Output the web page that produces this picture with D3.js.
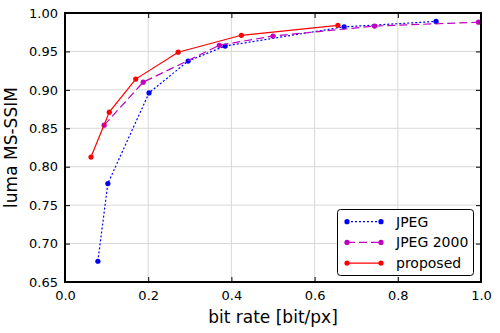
<!DOCTYPE html>
<html><head><meta charset="utf-8">
<script src="https://cdn.jsdelivr.net/npm/d3@7"></script>
<style>body{margin:0;background:#fff}text{font-family:"DejaVu Sans",sans-serif}</style>
</head><body><svg id="c" width="500" height="333"></svg>
<script>
const jpegX = [0.079, 0.103, 0.202, 0.296, 0.385, 0.671, 0.892];
const jpegY = [0.677, 0.778, 0.896, 0.9375, 0.957, 0.982, 0.989];
const j2kX = [0.094, 0.188, 0.371, 0.50, 0.744, 0.994];
const j2kY = [0.854, 0.910, 0.958, 0.970, 0.983, 0.988];
const propX = [0.0625, 0.1065, 0.170, 0.272, 0.424, 0.656];
const propY = [0.8126, 0.871, 0.914, 0.949, 0.971, 0.984];
const xTicks = [0.0, 0.2, 0.4, 0.6, 0.8, 1.0];
const yTicks = [0.65, 0.70, 0.75, 0.80, 0.85, 0.90, 0.95, 1.00];
const seriesNames = ["JPEG", "JPEG 2000", "proposed"];

const svg = d3.select("#c");
const L = 65, R = 481, T = 13, B = 282;
const x = d3.scaleLinear().domain([0, 1]).range([L, R]);
const y = d3.scaleLinear().domain([0.65, 1.0]).range([B, T]);

// grid
svg.append("g").selectAll("line").data(xTicks).join("line")
  .attr("x1", d => x(d)).attr("x2", d => x(d)).attr("y1", T).attr("y2", B)
  .attr("stroke", "#d8d8d8").attr("stroke-width", 1);
svg.append("g").selectAll("line").data(yTicks).join("line")
  .attr("y1", d => y(d)).attr("y2", d => y(d)).attr("x1", L).attr("x2", R)
  .attr("stroke", "#d8d8d8").attr("stroke-width", 1);

// axes with inward ticks
const fmtX = d3.format(".1f"), fmtY = d3.format(".2f");
const ax = (g) => g.call(s => s.select(".domain").remove())
  .call(s => s.selectAll("text").attr("font-size", 13).attr("fill", "#000"))
  .call(s => s.selectAll("line").attr("stroke", "#000").attr("stroke-width", 1));
svg.append("g").attr("transform", `translate(0,${B})`)
  .call(d3.axisBottom(x).tickValues(xTicks).tickFormat(fmtX).tickSizeInner(-5).tickPadding(9)).call(ax);
svg.append("g").attr("transform", `translate(0,${T})`)
  .call(d3.axisTop(x).tickValues(xTicks).tickFormat("").tickSizeInner(-5)).call(ax);
svg.append("g").attr("transform", `translate(${L},0)`)
  .call(d3.axisLeft(y).tickValues(yTicks).tickFormat(fmtY).tickSizeInner(-5).tickPadding(7)).call(ax);
svg.append("g").attr("transform", `translate(${R},0)`)
  .call(d3.axisRight(y).tickValues(yTicks).tickFormat("").tickSizeInner(-5)).call(ax);

// series
const series = [
  {name: seriesNames[0], xs: jpegX, ys: jpegY, color: "#0000ff", dash: "2,2"},
  {name: seriesNames[1], xs: j2kX, ys: j2kY, color: "#bf00bf", dash: "8,4"},
  {name: seriesNames[2], xs: propX, ys: propY, color: "#ff0000", dash: null}
];
const line = d3.line().x(d => x(d[0])).y(d => y(d[1]));
series.forEach(s => {
  const pts = s.xs.map((v, i) => [v, s.ys[i]]);
  svg.append("path").datum(pts).attr("d", line).attr("fill", "none")
    .attr("stroke", s.color).attr("stroke-width", 1.2).attr("stroke-dasharray", s.dash);
  svg.append("g").selectAll("circle").data(pts).join("circle")
    .attr("cx", d => x(d[0])).attr("cy", d => y(d[1])).attr("r", 2.6).attr("fill", s.color);
});

// frame
svg.append("rect").attr("x", L).attr("y", T).attr("width", R - L).attr("height", B - T)
  .attr("fill", "none").attr("stroke", "#000").attr("stroke-width", 2);

// legend
const lg = svg.append("g");
lg.append("rect").attr("x", 337.5).attr("y", 209.5).attr("width", 136).attr("height", 66)
  .attr("rx", 3).attr("fill", "#fff").attr("stroke", "#000").attr("stroke-width", 1);
series.forEach((s, i) => {
  const yy = 221.7 + i * 20.7;
  lg.append("line").attr("x1", 347).attr("x2", 381).attr("y1", yy).attr("y2", yy)
    .attr("stroke", s.color).attr("stroke-width", 1.2).attr("stroke-dasharray", s.dash);
  lg.append("circle").attr("cx", 347).attr("cy", yy).attr("r", 2.6).attr("fill", s.color);
  lg.append("circle").attr("cx", 381).attr("cy", yy).attr("r", 2.6).attr("fill", s.color);
  lg.append("text").attr("x", 396).attr("y", yy + 5).attr("font-size", 14).text(s.name);
});

// axis labels
svg.append("text").attr("x", x(0.5)).attr("y", 323).attr("text-anchor", "middle")
  .attr("font-size", 17).text("bit rate [bit/px]");
svg.append("text").attr("transform", `translate(16.5,${(T + B) / 2}) rotate(-90)`)
  .attr("text-anchor", "middle").attr("font-size", 17).text("luma MS-SSIM");
</script></body></html>
